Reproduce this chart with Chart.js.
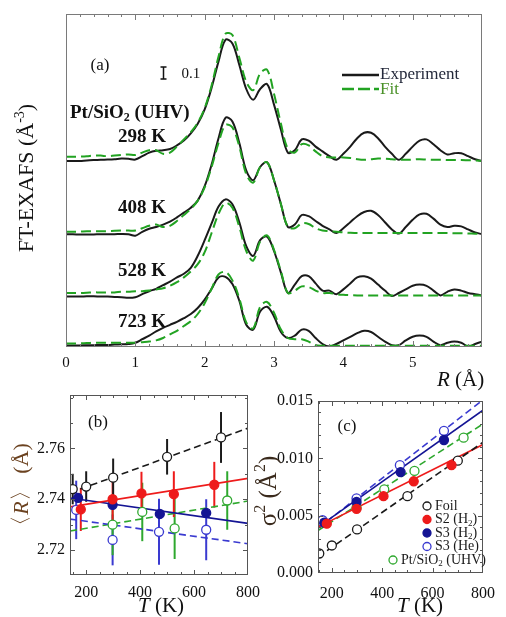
<!DOCTYPE html>
<html>
<head>
<meta charset="utf-8">
<script src="https://cdn.jsdelivr.net/npm/chart.js@4.4.1/dist/chart.umd.min.js"></script>
<style>
  body { margin: 0; background: #fff; }
  #wrap { position: relative; width: 506px; height: 617px; overflow: hidden; background: #fff; }
  canvas { position: absolute; }
</style>
</head>
<body>
<div id="wrap">
  <canvas id="ca" width="506" height="392" style="left:0;top:0"></canvas>
  <canvas id="cb" width="270" height="237" style="left:0;top:380px"></canvas>
  <canvas id="cc" width="254" height="237" style="left:252px;top:380px"></canvas>
</div>
<script>
// ---- panel (a): FT-EXAFS magnitude, curves stacked with offsets ----
const rGrid = [0,0.1,0.2,0.3,0.4,0.5,0.6,0.7,0.8,0.9,
  1,1.1,1.2,1.3,1.4,1.5,1.6,1.7,1.8,1.9,
  2,2.1,2.2,2.3,2.4,2.5,2.6,2.7,2.8,2.9,
  3,3.1,3.2,3.3,3.4,3.5,3.6,3.7,3.8,3.9,
  4,4.1,4.2,4.3,4.4,4.5,4.6,4.7,4.8,4.9,
  5,5.1,5.2,5.3,5.4,5.5,5.6,5.7,5.8,5.9,6];
const tempLabels = ['298 K', '408 K', '528 K', '723 K'];
const offsets = [1.55, 0.94, 0.42, 0.005];
const rTicksA = [0, 1, 2, 3, 4, 5];

const exp298 = [0.000,0.000,0.000,0.005,0.008,0.010,0.012,0.015,0.020,0.018,
  0.012,0.040,0.070,0.085,0.090,0.100,0.130,0.170,0.230,0.310,
  0.430,0.610,0.830,1.010,0.980,0.800,0.600,0.510,0.600,0.640,
  0.470,0.260,0.070,0.090,0.180,0.170,0.120,0.080,0.040,0.010,
  0.060,0.120,0.190,0.235,0.235,0.190,0.120,0.060,0.010,0.060,
  0.120,0.170,0.180,0.140,0.090,0.055,0.065,0.065,0.040,0.015,0.000];
const fit298 = [0.035,0.035,0.037,0.040,0.045,0.045,0.040,0.045,0.050,0.055,
  0.050,0.070,0.090,0.090,0.060,0.070,0.120,0.180,0.240,0.320,
  0.440,0.630,0.870,1.060,1.050,0.860,0.660,0.590,0.730,0.760,
  0.560,0.310,0.100,0.070,0.140,0.130,0.080,0.040,0.030,0.030,
  0.030,0.025,0.015,0.010,0.015,0.020,0.020,0.015,0.010,0.010,
  0.012,0.015,0.012,0.010,0.010,0.008,0.008,0.008,0.006,0.004,0.000];
const exp408 = [0.000,0.000,-0.003,-0.003,-0.002,0.000,0.000,0.000,0.002,0.000,
  -0.012,0.020,0.045,0.060,0.080,0.105,0.140,0.180,0.220,0.280,
  0.400,0.580,0.800,0.970,0.940,0.760,0.530,0.450,0.560,0.600,
  0.450,0.250,0.060,0.080,0.160,0.150,0.110,0.070,0.040,0.010,
  0.050,0.100,0.150,0.185,0.195,0.160,0.100,0.040,0.005,0.060,
  0.120,0.165,0.170,0.130,0.080,0.060,0.070,0.065,0.040,0.015,0.000];
const fit408 = [0.020,0.020,0.022,0.025,0.025,0.025,0.025,0.028,0.030,0.030,
  0.030,0.050,0.070,0.080,0.060,0.070,0.110,0.160,0.210,0.280,
  0.390,0.560,0.760,0.910,0.890,0.730,0.500,0.430,0.560,0.600,
  0.450,0.250,0.060,0.050,0.090,0.085,0.050,0.030,0.025,0.020,
  0.015,0.012,0.010,0.010,0.010,0.010,0.010,0.010,0.010,0.010,
  0.010,0.010,0.010,0.010,0.010,0.010,0.008,0.008,0.006,0.004,0.002];
const exp528 = [0.000,0.000,0.000,0.002,0.003,0.000,0.000,-0.003,-0.005,-0.010,
  -0.005,0.020,0.045,0.065,0.095,0.125,0.160,0.190,0.240,0.340,
  0.470,0.610,0.750,0.810,0.770,0.620,0.420,0.340,0.470,0.500,
  0.380,0.200,0.030,0.100,0.170,0.170,0.110,0.050,0.050,0.020,
  0.060,0.110,0.160,0.170,0.150,0.100,0.050,0.005,0.030,0.060,
  0.090,0.100,0.090,0.050,0.010,0.040,0.060,0.050,0.030,0.020,0.010];
const fit528 = [0.030,0.030,0.030,0.032,0.035,0.035,0.035,0.035,0.040,0.040,
  0.045,0.045,0.050,0.060,0.070,0.090,0.120,0.160,0.210,0.270,
  0.370,0.530,0.690,0.780,0.740,0.580,0.380,0.300,0.460,0.510,
  0.390,0.210,0.030,0.050,0.085,0.080,0.050,0.030,0.030,0.020,
  0.015,0.012,0.010,0.010,0.010,0.010,0.010,0.010,0.010,0.010,
  0.010,0.010,0.010,0.010,0.010,0.010,0.010,0.010,0.010,0.010,0.010];
const exp723 = [0.008,0.008,0.008,0.010,0.010,0.012,0.012,0.015,0.018,0.020,
  0.030,0.060,0.090,0.125,0.155,0.180,0.205,0.235,0.270,0.320,
  0.390,0.480,0.575,0.580,0.520,0.380,0.180,0.140,0.290,0.330,
  0.250,0.120,0.070,0.090,0.140,0.130,0.070,0.020,0.000,0.020,
  0.050,0.080,0.110,0.130,0.120,0.080,0.040,0.010,0.010,0.050,
  0.080,0.090,0.080,0.040,0.010,0.030,0.040,0.030,0.000,0.020,0.040];
const fit723 = [0.025,0.025,0.025,0.028,0.030,0.030,0.030,0.030,0.030,0.030,
  0.030,0.035,0.040,0.050,0.070,0.100,0.130,0.170,0.210,0.270,
  0.360,0.480,0.600,0.620,0.550,0.400,0.200,0.150,0.330,0.370,
  0.280,0.140,0.070,0.060,0.060,0.040,0.010,0.005,0.005,0.005,
  0.005,0.005,0.005,0.005,0.005,0.005,0.005,0.005,0.005,0.005,
  0.005,0.005,0.005,0.005,0.005,0.005,0.005,0.005,0.005,0.005,0.005];

// scale bar "0.1" position (R, y)
const barR = 1.4, barY0 = 2.233;

// ---- panel (b): <R> vs T ----
const tTicks = [200, 400, 600, 800];
const rTicksB = [2.72, 2.74, 2.76];
const foilT = [150, 200, 300, 500, 700];
const foilR = [2.7440, 2.7450, 2.7485, 2.7567, 2.7643];
const foilRErr = [0.0060, 0.0060, 0.0075, 0.0070, 0.0100];
const s2T = [180, 298, 405, 525, 675];
const s2R = [2.7360, 2.7400, 2.7423, 2.7420, 2.7457];
const s2RErr = [0.0085, 0.0090, 0.0085, 0.0090, 0.0090];
const s3hT = [170, 298, 473, 645];
const s3hR = [2.7405, 2.7378, 2.7342, 2.7346];
const s3heT = [163, 298, 470, 645];
const s3heR = [2.7358, 2.7240, 2.7272, 2.7280];
const s3heRErr = [0.0115, 0.0100, 0.0130, 0.0120];
const uhvT = [298, 408, 528, 723];
const uhvR = [2.7300, 2.7350, 2.7285, 2.7395];
const uhvRErr = [0.0120, 0.0115, 0.0120, 0.0115];
const fitTB = [140, 800];
const foilRFit = [2.7425, 2.7680];
const s2RFit = [2.7370, 2.7482];
const s3hRFit = [2.7405, 2.7305];
const s3heRFit = [2.7322, 2.7225];
const uhvRFit = [2.7275, 2.7393];

// ---- panel (c): sigma^2 vs T ----
const sTicksC = [0, 0.005, 0.010, 0.015];
const foilS = [0.0017, 0.0024, 0.0038, 0.0067, 0.0098];
const s2S = [0.0043, 0.0056, 0.0067, 0.0080, 0.0094];
const s3hS = [0.0044, 0.0062, 0.0088, 0.0116];
const s3heS = [0.0046, 0.0065, 0.0094, 0.0124];
const uhvS = [0.0057, 0.0073, 0.0089, 0.0118];
const fitTC = [145, 800];
const foilSFit = [0.0014, 0.0114];
const s2SFit = [0.0040, 0.0112];
const s3hSFit = [0.0040, 0.0142];
const s3heSFit = [0.0039, 0.0151];
const uhvSFit = [0.0037, 0.0130];

// ---- styling ----
const FONT = '"Liberation Serif", "Times New Roman", serif';
const FITG = '#22a322';
const RED = '#ee1b1b', NAVY = '#141494', BLUE = '#3a3ad0', GRN = '#2ea82e', BLK = '#1a1a1a';
Chart.defaults.font.family = FONT;
Chart.defaults.color = '#111';

function range(a, b, step) {
  const out = [];
  const n = Math.round((b - a) / step);
  for (let i = 0; i <= n; i++) out.push(+(a + i * step).toFixed(6));
  return out;
}
function pts(X, Y, off) { return X.map((x, i) => ({ x: x, y: Y[i] + (off || 0) })); }

// rich text: parts = [{t, it, b, sub, sup}]
function rich(ctx, parts, x, y, opt) {
  const size = opt.size;
  const fontOf = p => (p.it ? 'italic ' : '') + ((p.b || opt.bold) ? 'bold ' : '') +
    ((p.sub || p.sup) ? Math.round(size * 0.65) : size) + 'px ' + FONT;
  ctx.save();
  ctx.translate(x, y);
  if (opt.rotate) ctx.rotate(opt.rotate);
  ctx.textBaseline = 'middle';
  ctx.fillStyle = opt.color || '#111';
  let w = 0;
  parts.forEach(p => { ctx.font = fontOf(p); p.w = ctx.measureText(p.t).width; w += p.w; });
  let cx = opt.align === 'center' ? -w / 2 : opt.align === 'right' ? -w : 0;
  parts.forEach(p => {
    ctx.font = fontOf(p);
    const dy = p.sub ? size * 0.28 : p.sup ? -size * 0.32 : 0;
    ctx.fillText(p.t, cx, dy);
    cx += p.w;
  });
  ctx.restore();
}

function xMarks(ctx, ca, sc, vals, len) {
  vals.forEach(v => {
    const px = Math.round(sc.getPixelForValue(v)) + 0.5;
    if (px < ca.left || px > ca.right) return;
    ctx.beginPath();
    ctx.moveTo(px, ca.bottom); ctx.lineTo(px, ca.bottom - len);
    ctx.moveTo(px, ca.top); ctx.lineTo(px, ca.top + len);
    ctx.stroke();
  });
}
function yMarks(ctx, ca, sc, vals, len) {
  vals.forEach(v => {
    const py = Math.round(sc.getPixelForValue(v)) + 0.5;
    if (py < ca.top || py > ca.bottom) return;
    ctx.beginPath();
    ctx.moveTo(ca.left, py); ctx.lineTo(ca.left + len, py);
    ctx.moveTo(ca.right, py); ctx.lineTo(ca.right - len, py);
    ctx.stroke();
  });
}
function frame(ctx, ca, color) {
  ctx.strokeStyle = color;
  ctx.lineWidth = 1;
  ctx.strokeRect(ca.left + 0.5, ca.top + 0.5, ca.width - 1, ca.height - 1);
}

// ================= panel (a) =================
const expCurves = [exp298, exp408, exp528, exp723];
const fitCurves = [fit298, fit408, fit528, fit723];
const dsA = [];
fitCurves.forEach((c, i) => dsA.push({
  data: pts(rGrid, c, offsets[i]), showLine: true, pointRadius: 0,
  borderColor: FITG, borderWidth: 2, borderDash: [10, 5], tension: 0.35
}));
expCurves.forEach((c, i) => dsA.push({
  data: pts(rGrid, c, offsets[i]), showLine: true, pointRadius: 0,
  borderColor: BLK, borderWidth: 2, tension: 0.35
}));

const panelA = {
  id: 'panelA',
  afterDraw(chart) {
    const { ctx, chartArea: ca, scales: { x, y } } = chart;
    ctx.save();
    frame(ctx, ca, '#7a7a7a');
    xMarks(ctx, ca, x, range(0, 6, 0.2), 3);
    xMarks(ctx, ca, x, range(0, 6, 1), 6);

    // scale bar
    const bx = Math.round(x.getPixelForValue(barR)) + 0.5;
    const b0 = y.getPixelForValue(barY0), b1 = y.getPixelForValue(barY0 + 0.1);
    ctx.strokeStyle = '#111'; ctx.lineWidth = 1.5;
    ctx.beginPath();
    ctx.moveTo(bx, b0); ctx.lineTo(bx, b1);
    ctx.moveTo(bx - 3, b0); ctx.lineTo(bx + 3, b0);
    ctx.moveTo(bx - 3, b1); ctx.lineTo(bx + 3, b1);
    ctx.stroke();
    rich(ctx, [{ t: '0.1' }], bx + 18, (b0 + b1) / 2 + 1, { size: 15 });

    // legend
    ctx.lineWidth = 2.5; ctx.strokeStyle = BLK;
    ctx.beginPath(); ctx.moveTo(342, 75); ctx.lineTo(379, 75); ctx.stroke();
    ctx.strokeStyle = FITG; ctx.setLineDash([12, 4]);
    ctx.beginPath(); ctx.moveTo(342, 89); ctx.lineTo(379, 89); ctx.stroke();
    ctx.setLineDash([]);
    rich(ctx, [{ t: 'Experiment' }], 380, 75, { size: 17, color: '#23283a' });
    rich(ctx, [{ t: 'Fit' }], 380, 90, { size: 17, color: '#4a9128' });

    // labels
    rich(ctx, [{ t: '(a)' }], 100, 66, { size: 17, align: 'center' });
    rich(ctx, [{ t: 'Pt/SiO' }, { t: '2', sub: true }, { t: ' (UHV)' }], 70, 113, { size: 19, bold: true });
    const labY = [137, 208, 271, 322];
    tempLabels.forEach((t, i) => rich(ctx, [{ t: t }], 118, labY[i], { size: 19, bold: true }));

    // axis titles
    rich(ctx, [{ t: 'R', it: true }, { t: ' (Å)' }], 437, 380, { size: 21 });
    rich(ctx, [{ t: 'FT-EXAFS (Å' }, { t: '-3', sup: true }, { t: ')' }], 27, 178,
      { size: 22, align: 'center', rotate: -Math.PI / 2 });
    ctx.restore();
  }
};

new Chart(document.getElementById('ca'), {
  type: 'scatter',
  data: { datasets: dsA },
  options: {
    responsive: false, animation: false, events: [],
    layout: { padding: { top: 14, right: 24, left: 0, bottom: 0 } },
    plugins: { legend: { display: false }, tooltip: { enabled: false } },
    scales: {
      x: {
        type: 'linear', min: 0, max: 6,
        grid: { display: false, drawTicks: false }, border: { display: false },
        afterBuildTicks: s => { s.ticks = rTicksA.map(v => ({ value: v })); },
        ticks: { font: { size: 15 }, color: '#111', padding: 7, autoSkip: false, maxRotation: 0 },
        afterFit: s => { s.height = 45; }
      },
      y: {
        min: 0, max: 2.775,
        grid: { display: false, drawTicks: false }, border: { display: false },
        ticks: { display: false },
        afterFit: s => { s.width = 66; }
      }
    }
  },
  plugins: [panelA]
});

// ================= panels (b) and (c) =================
function pointSet(T, V, color, filled) {
  return {
    data: pts(T, V), showLine: false, pointRadius: 4.5, pointBorderWidth: 1.3,
    pointStyle: 'circle', pointBorderColor: color,
    pointBackgroundColor: filled ? color : '#fff'
  };
}
function fitSet(T, V, color, dashed) {
  return {
    data: pts(T, V), showLine: true, pointRadius: 0, borderColor: color,
    borderWidth: 1.6, borderDash: dashed ? [7, 4] : []
  };
}
function errorBars(sets) {
  return {
    id: 'errbars',
    beforeDatasetsDraw(chart) {
      const { ctx, chartArea: ca, scales: { x, y } } = chart;
      ctx.save();
      ctx.beginPath(); ctx.rect(ca.left, ca.top, ca.width, ca.height); ctx.clip();
      ctx.lineWidth = 2;
      sets.forEach(s => {
        ctx.strokeStyle = s.color;
        s.T.forEach((t, i) => {
          const px = x.getPixelForValue(t);
          ctx.beginPath();
          ctx.moveTo(px, y.getPixelForValue(s.V[i] - s.E[i]));
          ctx.lineTo(px, y.getPixelForValue(s.V[i] + s.E[i]));
          ctx.stroke();
        });
      });
      ctx.restore();
    }
  };
}

const panelB = {
  id: 'panelB',
  afterDraw(chart) {
    const { ctx, chartArea: ca, scales: { x, y } } = chart;
    ctx.save();
    frame(ctx, ca, '#555');
    xMarks(ctx, ca, x, range(150, 800, 50), 3);
    xMarks(ctx, ca, x, tTicks, 5);
    yMarks(ctx, ca, y, range(2.71, 2.78, 0.01), 3);
    yMarks(ctx, ca, y, rTicksB, 5);
    rich(ctx, [{ t: '(b)' }], 98, 43, { size: 17, align: 'center' });
    rich(ctx, [{ t: 'T', it: true }, { t: ' (K)' }], 138, 226, { size: 21 });
    rich(ctx, [{ t: '〈' }, { t: 'R', it: true }, { t: '〉 (Å)' }], 22, 110,
      { size: 22, align: 'center', rotate: -Math.PI / 2, color: '#6b4220' });
    ctx.restore();
  }
};

new Chart(document.getElementById('cb'), {
  type: 'scatter',
  data: {
    datasets: [
      pointSet(s2T, s2R, RED, true),
      pointSet(s3hT, s3hR, NAVY, true),
      pointSet(s3heT, s3heR, BLUE, false),
      pointSet(uhvT, uhvR, GRN, false),
      pointSet(foilT, foilR, BLK, false),
      fitSet(fitTB, foilRFit, BLK, true),
      fitSet(fitTB, s2RFit, RED, false),
      fitSet(fitTB, s3hRFit, NAVY, false),
      fitSet(fitTB, s3heRFit, BLUE, true),
      fitSet(fitTB, uhvRFit, GRN, true)
    ]
  },
  options: {
    responsive: false, animation: false, events: [],
    layout: { padding: { top: 15, right: 22, left: 0, bottom: 0 } },
    plugins: { legend: { display: false }, tooltip: { enabled: false } },
    scales: {
      x: {
        type: 'linear', min: 140, max: 800,
        grid: { display: false, drawTicks: false }, border: { display: false },
        afterBuildTicks: s => { s.ticks = tTicks.map(v => ({ value: v })); },
        ticks: { font: { size: 16 }, color: '#111', padding: 8, autoSkip: false, maxRotation: 0 },
        afterFit: s => { s.height = 42; }
      },
      y: {
        min: 2.7102, max: 2.781,
        grid: { display: false, drawTicks: false }, border: { display: false },
        afterBuildTicks: s => { s.ticks = rTicksB.map(v => ({ value: v })); },
        ticks: { font: { size: 16 }, color: '#111', padding: 5, callback: v => v.toFixed(2) },
        afterFit: s => { s.width = 70; }
      }
    }
  },
  plugins: [errorBars([
    { T: s3heT, V: s3heR, E: s3heRErr, color: BLUE },
    { T: uhvT, V: uhvR, E: uhvRErr, color: GRN },
    { T: s2T, V: s2R, E: s2RErr, color: RED },
    { T: foilT, V: foilR, E: foilRErr, color: BLK }
  ]), panelB]
});

const legendC = [
  { parts: [{ t: 'Foil' }], color: BLK, filled: false, x: 175, y: 126 },
  { parts: [{ t: 'S2 (H' }, { t: '2', sub: true }, { t: ')' }], color: RED, filled: true, x: 175, y: 139.5 },
  { parts: [{ t: 'S3 (H' }, { t: '2', sub: true }, { t: ')' }], color: NAVY, filled: true, x: 175, y: 153 },
  { parts: [{ t: 'S3 (He)' }], color: BLUE, filled: false, x: 175, y: 166.5 },
  { parts: [{ t: 'Pt/SiO' }, { t: '2', sub: true }, { t: ' (UHV)' }], color: GRN, filled: false, x: 141, y: 180 }
];

const panelC = {
  id: 'panelC',
  afterDraw(chart) {
    const { ctx, chartArea: ca, scales: { x, y } } = chart;
    ctx.save();
    frame(ctx, ca, '#555');
    xMarks(ctx, ca, x, range(150, 800, 50), 3);
    xMarks(ctx, ca, x, tTicks, 5);
    yMarks(ctx, ca, y, range(0, 0.015, 0.001), 3);
    yMarks(ctx, ca, y, sTicksC, 5);
    rich(ctx, [{ t: '(c)' }], 95, 47, { size: 17, align: 'center' });
    rich(ctx, [{ t: 'T', it: true }, { t: ' (K)' }], 145, 226, { size: 21 });
    rich(ctx, [{ t: 'σ' }, { t: '2', sup: true }, { t: ' (Å' }, { t: '2', sup: true }, { t: ')' }], 17, 111,
      { size: 25, align: 'center', rotate: -Math.PI / 2, color: '#3a2a1c' });
    legendC.forEach(e => {
      ctx.beginPath();
      ctx.arc(e.x, e.y, 4, 0, Math.PI * 2);
      ctx.fillStyle = e.filled ? e.color : '#fff';
      ctx.fill();
      ctx.lineWidth = 1.3; ctx.strokeStyle = e.color; ctx.stroke();
      rich(ctx, e.parts, e.x + 8, e.y, { size: 14, color: '#1a1a1a' });
    });
    ctx.restore();
  }
};

new Chart(document.getElementById('cc'), {
  type: 'scatter',
  data: {
    datasets: [
      pointSet(s2T, s2S, RED, true),
      pointSet(s3hT, s3hS, NAVY, true),
      pointSet(s3heT, s3heS, BLUE, false),
      pointSet(uhvT, uhvS, GRN, false),
      pointSet(foilT, foilS, BLK, false),
      fitSet(fitTC, foilSFit, BLK, true),
      fitSet(fitTC, s2SFit, RED, false),
      fitSet(fitTC, s3hSFit, NAVY, false),
      fitSet(fitTC, s3heSFit, BLUE, true),
      fitSet(fitTC, uhvSFit, GRN, true)
    ]
  },
  options: {
    responsive: false, animation: false, events: [],
    layout: { padding: { top: 21, right: 15, left: 0, bottom: 0 } },
    plugins: { legend: { display: false }, tooltip: { enabled: false } },
    scales: {
      x: {
        type: 'linear', min: 145, max: 800,
        grid: { display: false, drawTicks: false }, border: { display: false },
        afterBuildTicks: s => { s.ticks = tTicks.map(v => ({ value: v })); },
        ticks: { font: { size: 16 }, color: '#111', padding: 11, autoSkip: false, maxRotation: 0 },
        afterFit: s => { s.height = 44; }
      },
      y: {
        min: 0, max: 0.015,
        grid: { display: false, drawTicks: false }, border: { display: false },
        afterBuildTicks: s => { s.ticks = sTicksC.map(v => ({ value: v })); },
        ticks: { font: { size: 16 }, color: '#111', padding: 5, callback: v => v.toFixed(3) },
        afterFit: s => { s.width = 66; }
      }
    }
  },
  plugins: [panelC]
});
</script>
</body>
</html>
